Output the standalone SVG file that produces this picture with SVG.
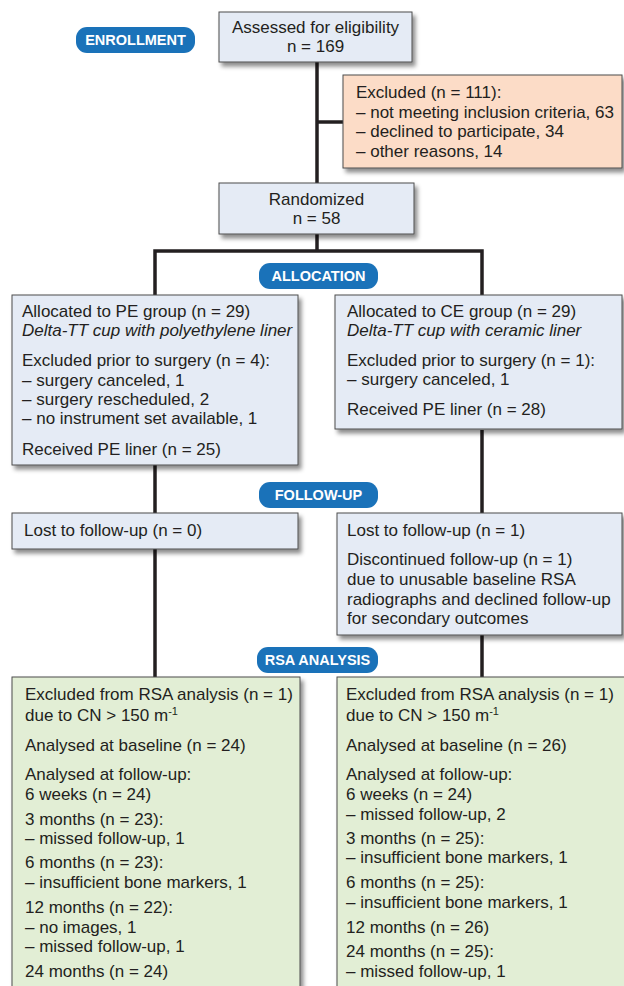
<svg xmlns="http://www.w3.org/2000/svg" width="624" height="986" viewBox="0 0 624 986">
<defs>
<filter id="sh" x="-10%" y="-10%" width="130%" height="140%">
<feDropShadow dx="3" dy="4" stdDeviation="2.2" flood-color="#000" flood-opacity="0.45"/>
</filter>
<style>
.box{stroke:#4d4d4d;stroke-width:1;filter:url(#sh)}
.blue{fill:#e5ebf5}
.peach{fill:#fcdcc7}
.green{fill:#e2eed5}
.pill{fill:#1a72b9}
.pt{font-family:"Liberation Sans",Arial,sans-serif;font-size:14.5px;font-weight:bold;fill:#fff;text-anchor:middle}
.t{font-family:"Liberation Sans",Arial,sans-serif;font-size:17px;fill:#231f20}
.c{text-anchor:middle}
.i{font-style:italic}
.ln{fill:none;stroke:#231f20;stroke-width:3.5}
</style>
</defs>
<rect width="624" height="986" fill="#fff"/>
<g id="connectors">
<path class="ln" d="M317,62 V183"/>
<path class="ln" d="M317,122 H343"/>
<path class="ln" d="M317,234 V251"/>
<path class="ln" d="M155,295 V251 H482 V295"/>
<path class="ln" d="M155,465 V513"/>
<path class="ln" d="M482,430 V513"/>
<path class="ln" d="M155,549 V677"/>
<path class="ln" d="M482,635 V677"/>
</g>
<g id="enrollment">
<rect class="pill" x="76" y="27" width="119" height="26" rx="11"/>
<text class="pt" x="135.5" y="45">ENROLLMENT</text>
</g>
<g id="assessed">
<rect class="box blue" x="219" y="12" width="193" height="50"/>
<text class="t c" x="315.5" y="33">Assessed for eligibility</text>
<text class="t c" x="315.5" y="52">n = 169</text>
</g>
<g id="excluded">
<rect class="box peach" x="343" y="75" width="279" height="93"/>
<text class="t" x="356" y="98">Excluded (n = 111):</text>
<text class="t" x="356" y="118">– not meeting inclusion criteria, 63</text>
<text class="t" x="356" y="137">– declined to participate, 34</text>
<text class="t" x="356" y="157">– other reasons, 14</text>
</g>
<g id="randomized">
<rect class="box blue" x="219" y="183" width="195" height="51"/>
<text class="t c" x="316.5" y="205">Randomized</text>
<text class="t c" x="316.5" y="224">n = 58</text>
</g>
<g id="allocation">
<rect class="pill" x="259" y="263" width="119" height="26" rx="11"/>
<text class="pt" x="318.5" y="281">ALLOCATION</text>
</g>
<g id="pe-group">
<rect class="box blue" x="12" y="295" width="286" height="170"/>
<text class="t" x="22" y="317">Allocated to PE group (n = 29)</text>
<text class="t i" x="22" y="336">Delta-TT cup with polyethylene liner</text>
<text class="t" x="22" y="366">Excluded prior to surgery (n = 4):</text>
<text class="t" x="22" y="386">– surgery canceled, 1</text>
<text class="t" x="22" y="405">– surgery rescheduled, 2</text>
<text class="t" x="22" y="424">– no instrument set available, 1</text>
<text class="t" x="22" y="455">Received PE liner (n = 25)</text>
</g>
<g id="ce-group">
<rect class="box blue" x="335" y="295" width="287" height="134"/>
<text class="t" x="347" y="317">Allocated to CE group (n = 29)</text>
<text class="t i" x="347" y="336">Delta-TT cup with ceramic liner</text>
<text class="t" x="347" y="366">Excluded prior to surgery (n = 1):</text>
<text class="t" x="347" y="385">– surgery canceled, 1</text>
<text class="t" x="347" y="415">Received PE liner (n = 28)</text>
</g>
<g id="follow-up">
<rect class="pill" x="259" y="482" width="119" height="26" rx="11"/>
<text class="pt" x="318.5" y="500">FOLLOW-UP</text>
</g>
<g id="pe-followup">
<rect class="box blue" x="12" y="513" width="286" height="36"/>
<text class="t" x="24" y="536">Lost to follow-up (n = 0)</text>
</g>
<g id="ce-followup">
<rect class="box blue" x="337" y="513" width="285" height="122"/>
<text class="t" x="347" y="536">Lost to follow-up (n = 1)</text>
<text class="t" x="347" y="565">Discontinued follow-up (n = 1)</text>
<text class="t" x="347" y="585">due to unusable baseline RSA</text>
<text class="t" x="347" y="605">radiographs and declined follow-up</text>
<text class="t" x="347" y="624">for secondary outcomes</text>
</g>
<g id="rsa-analysis">
<rect class="pill" x="257" y="647" width="121" height="26" rx="11"/>
<text class="pt" x="317.5" y="665">RSA ANALYSIS</text>
</g>
<g id="pe-rsa">
<rect class="box green" x="12" y="677" width="288" height="330"/>
<text class="t" x="25" y="700">Excluded from RSA analysis (n = 1)</text>
<text class="t" x="25" y="721">due to CN &gt; 150 m<tspan font-size="11" dy="-6">-1</tspan></text>
<text class="t" x="25" y="751">Analysed at baseline (n = 24)</text>
<text class="t" x="25" y="780">Analysed at follow-up:</text>
<text class="t" x="25" y="800">6 weeks (n = 24)</text>
<text class="t" x="25" y="825">3 months (n = 23):</text>
<text class="t" x="25" y="844">– missed follow-up, 1</text>
<text class="t" x="25" y="868">6 months (n = 23):</text>
<text class="t" x="25" y="888">– insufficient bone markers, 1</text>
<text class="t" x="25" y="913">12 months (n = 22):</text>
<text class="t" x="25" y="933">– no images, 1</text>
<text class="t" x="25" y="952">– missed follow-up, 1</text>
<text class="t" x="25" y="977">24 months (n = 24)</text>
</g>
<g id="ce-rsa">
<rect class="box green" x="337" y="677" width="300" height="330"/>
<text class="t" x="346" y="700">Excluded from RSA analysis (n = 1)</text>
<text class="t" x="346" y="721">due to CN &gt; 150 m<tspan font-size="11" dy="-6">-1</tspan></text>
<text class="t" x="346" y="751">Analysed at baseline (n = 26)</text>
<text class="t" x="346" y="780">Analysed at follow-up:</text>
<text class="t" x="346" y="800">6 weeks (n = 24)</text>
<text class="t" x="346" y="820">– missed follow-up, 2</text>
<text class="t" x="346" y="844">3 months (n = 25):</text>
<text class="t" x="346" y="863">– insufficient bone markers, 1</text>
<text class="t" x="346" y="888">6 months (n = 25):</text>
<text class="t" x="346" y="908">– insufficient bone markers, 1</text>
<text class="t" x="346" y="933">12 months (n = 26)</text>
<text class="t" x="346" y="957">24 months (n = 25):</text>
<text class="t" x="346" y="977">– missed follow-up, 1</text>
</g>
</svg>
